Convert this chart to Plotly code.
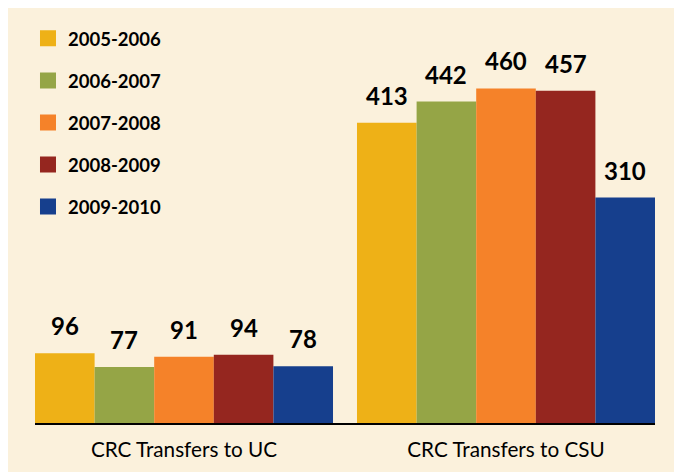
import plotly.graph_objects as go

categories = ["CRC Transfers to UC", "CRC Transfers to CSU"]
years = ["2005-2006", "2006-2007", "2007-2008", "2008-2009", "2009-2010"]
values = {
    "2005-2006": [96, 413],
    "2006-2007": [77, 442],
    "2007-2008": [91, 460],
    "2008-2009": [94, 457],
    "2009-2010": [78, 310],
}
colors = ["#EEB117", "#95A546", "#F58229", "#95261F", "#163F8D"]

CREAM = "#FBF1DC"
BARGAP = 0.0745
fig = go.Figure()

for yr, col in zip(years, colors):
    fig.add_trace(go.Bar(
        x=categories, y=values[yr], name=yr,
        marker=dict(color=col, line=dict(width=0)),
        showlegend=False, hoverinfo="skip",
    ))

for i, (yr, col) in enumerate(zip(years, colors)):
    fig.add_trace(go.Scatter(
        x=[None], y=[None], mode="markers", name=yr,
        marker=dict(symbol="square", size=16, color=col),
        legendgroup=f"g{i}", showlegend=True,
    ))

# value labels centred over each grouped bar
n = len(years)
w = (1 - BARGAP) / n
annotations = []
for ci, cat in enumerate(categories):
    for i, yr in enumerate(years):
        v = values[yr][ci]
        annotations.append(dict(
            x=ci - (1 - BARGAP) / 2 + (i + 0.5) * w, y=v, xref="x", yref="y",
            text=f"<b>{v}</b>", showarrow=False, yanchor="bottom", yshift=11,
            font=dict(family="Lato", size=24, color="black"),
        ))

fig.update_layout(
    width=666, height=464,
    margin=dict(l=27, r=19, t=12, b=49),
    paper_bgcolor=CREAM, plot_bgcolor=CREAM,
    barmode="group", bargap=BARGAP, bargroupgap=0,
    showlegend=True,
    legend=dict(
        x=-0.0113, xanchor="left", y=1.008, yanchor="top",
        bgcolor="rgba(0,0,0,0)", tracegroupgap=15,
        font=dict(family="Lato", size=18.5, color="black", weight="bold"),
        itemsizing="trace",
    ),
    xaxis=dict(
        range=[-0.5 + BARGAP / 2, 1.5 - BARGAP / 2],
        showline=True, linecolor="black", linewidth=2,
        ticks="outside", ticklen=7, tickcolor=CREAM,
        tickfont=dict(family="Lato", size=20.7, color="black"),
        showgrid=False, zeroline=False,
    ),
    yaxis=dict(range=[0, 550], visible=False, showgrid=False, zeroline=False),
    annotations=annotations,
)

fig.write_html(
    "out.html",
    post_script=(
        "document.documentElement.style.overflow='hidden';"
        "document.documentElement.style.background='#ffffff';"
        "document.body.style.margin='8px 0 0 8px';"
        "document.body.style.background='" + CREAM + "';"
        "document.body.style.minHeight='calc(100vh - 8px)';"
    ),
)
